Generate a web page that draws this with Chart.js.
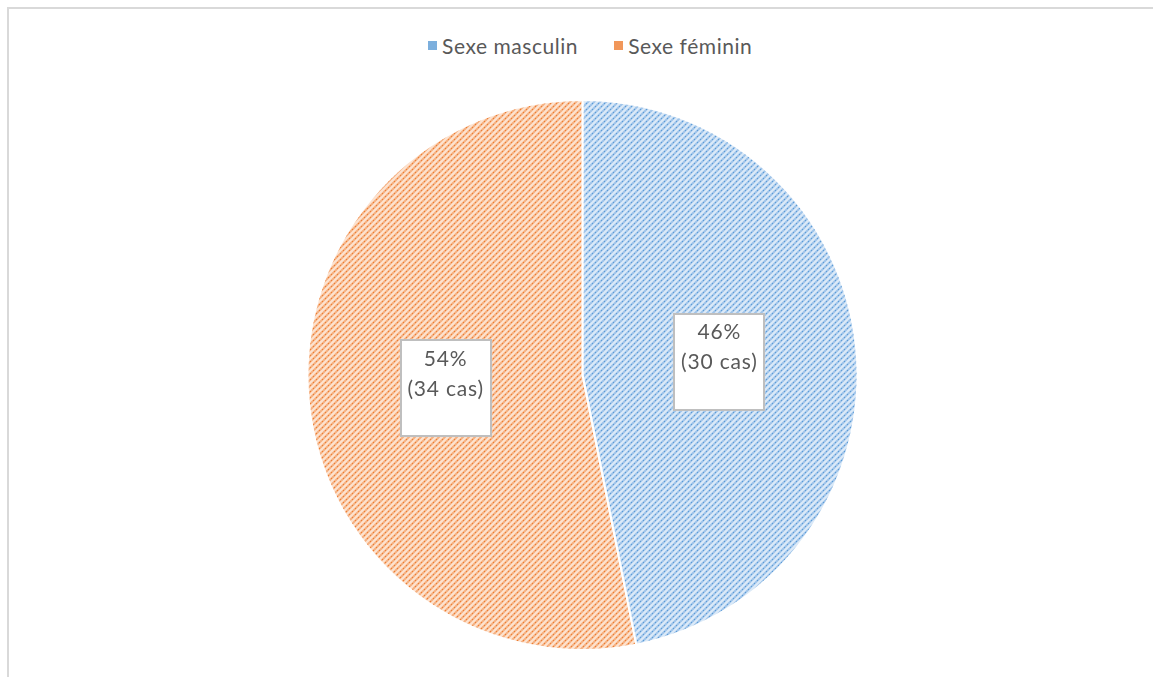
<!DOCTYPE html>
<html>
<head>
<meta charset="utf-8">
<script src="https://cdn.jsdelivr.net/npm/chart.js@4/dist/chart.umd.min.js"></script>
<style>
  html, body { margin: 0; padding: 0; background: #fff; }
  #wrap { position: relative; width: 1153px; height: 677px; overflow: hidden; }
  #frame {
    position: absolute; left: 7px; top: 7px; width: 1160px; height: 690px;
    border-top: 2px solid #d9d9d9; border-left: 2px solid #d9d9d9;
  }
  #legend {
    position: absolute; top: 32px; left: 428px; height: 26px;
    display: flex; align-items: center;
    font-family: Lato, "Liberation Sans", sans-serif; font-size: 21px; color: #595959;
    letter-spacing: 0.55px;
  }
  #legend .item { display: flex; align-items: center; margin-right: 36px; }
  #legend .sw { width: 9px; height: 9px; margin-right: 5px; }
  canvas { position: absolute; left: 0; top: 0; }
</style>
</head>
<body>
<div id="wrap">
  <div id="frame"></div>
  <div id="legend"></div>
  <canvas id="sexChart" width="1153" height="677"></canvas>
</div>
<script>
const categories = ['Sexe masculin', 'Sexe féminin'];
const caseCounts = [30, 34];
const percentLabels = ['46%', '54%'];
const baseColors = ['#5b9bd5', '#ed7d31'];
const lightColors = ['#dceaf8', '#fde3d0'];
const stripeColors = ['#9fc4ea', '#f5b081'];

// hatch tile: light background with dotted upward diagonals
function makeHatch(light, stripe, dark) {
    const s = 6;
    const c = document.createElement('canvas');
    c.width = s; c.height = s;
    const g = c.getContext('2d');
    g.fillStyle = light;
    g.fillRect(0, 0, s, s);
    g.strokeStyle = stripe;
    g.lineWidth = 2;
    g.beginPath();
    g.moveTo(-1, s + 1); g.lineTo(s + 1, -1);
    g.moveTo(-1, 1); g.lineTo(1, -1);
    g.moveTo(s - 1, s + 1); g.lineTo(s + 1, s - 1);
    g.stroke();
    g.fillStyle = dark;
    g.fillRect(1, 4, 1, 1);
    g.fillRect(4, 1, 1, 1);
    return g.createPattern(c, 'repeat');
}

const ctx = document.getElementById('sexChart').getContext('2d');
const hatches = categories.map((_, i) => makeHatch(lightColors[i], stripeColors[i], baseColors[i]));

// legend built from the same arrays
const legendEl = document.getElementById('legend');
legendEl.innerHTML = categories.map((name, i) => `
    <div class="item">
        <div class="sw" style="background:${baseColors[i]}; opacity:0.8"></div>
        <span>${name}</span>
    </div>
`).join('');

// white boxes with the percentage and case count at each slice centre
const boxLabels = {
    id: 'boxLabels',
    afterDatasetsDraw(chart) {
        const c = chart.ctx;
        const arcs = chart.getDatasetMeta(0).data;
        arcs.forEach((arc, i) => {
            const pos = arc.getCenterPoint();
            const w = 90, h = 96;
            const x = Math.round(pos.x - w / 2), y = Math.round(pos.y - h / 2);
            c.save();
            c.fillStyle = '#ffffff';
            c.fillRect(x, y, w, h);
            c.strokeStyle = '#bfbfbf';
            c.lineWidth = 2;
            c.strokeRect(x, y, w, h);
            c.fillStyle = '#595959';
            c.font = '21px Lato, "Liberation Sans", sans-serif';
            c.letterSpacing = '0.8px';
            c.textAlign = 'center';
            c.textBaseline = 'middle';
            c.fillText(percentLabels[i], pos.x, pos.y - 29);
            c.fillText(`(${caseCounts[i]} cas)`, pos.x, pos.y + 1);
            c.restore();
        });
    }
};

new Chart(ctx, {
    type: 'pie',
    data: {
        labels: categories,
        datasets: [{
            data: caseCounts,
            backgroundColor: hatches,
            borderColor: '#ffffff',
            borderWidth: 2
        }]
    },
    options: {
        responsive: false,
        animation: false,
        layout: { padding: { left: 12, right: 0, top: 99, bottom: 26 } },
        plugins: {
            legend: { display: false },
            tooltip: { enabled: false }
        }
    },
    plugins: [boxLabels]
});
</script>
</body>
</html>
